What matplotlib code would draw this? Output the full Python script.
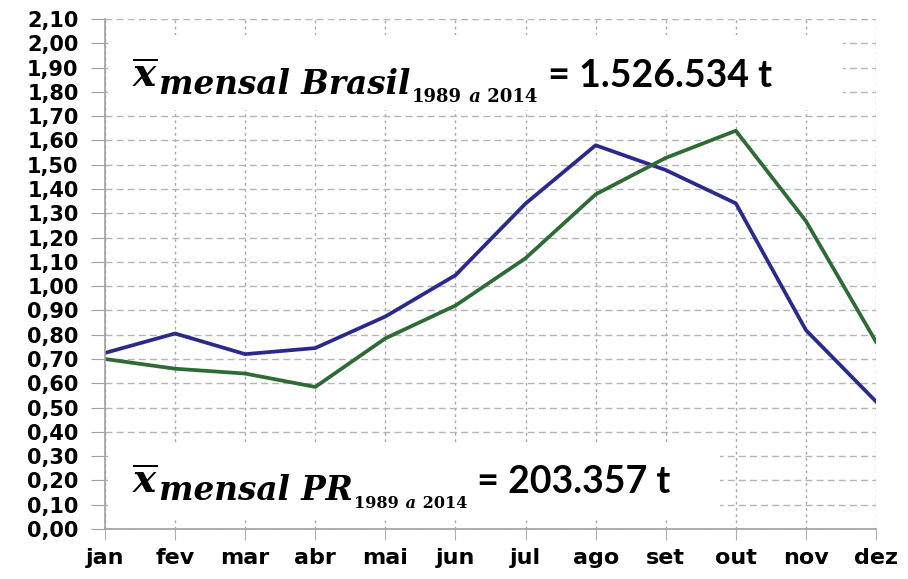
import numpy as np
import matplotlib.pyplot as plt
from matplotlib.patches import Rectangle

months = ["jan", "fev", "mar", "abr", "mai", "jun", "jul", "ago", "set", "out", "nov", "dez"]
serie_azul = [0.725, 0.805, 0.72, 0.745, 0.875, 1.045, 1.34, 1.58, 1.478, 1.341, 0.819, 0.525]
serie_verde = [0.70, 0.66, 0.64, 0.585, 0.785, 0.92, 1.115, 1.378, 1.528, 1.64, 1.268, 0.771]
y_ticks = np.round(np.arange(0, 2.11, 0.1), 2)

media_brasil = "1.526.534 t"
media_pr = "203.357 t"

plt.rcParams["mathtext.fontset"] = "dejavuserif"

W, H = 908, 579
fig = plt.figure(figsize=(W / 100, H / 100), dpi=100)
ax = fig.add_axes([105 / W, 1 - 529 / H, 771 / W, 510 / H])

x = np.arange(len(months))
ax.plot(x, serie_azul, color="#2b2a8c", lw=2.7, zorder=4)
ax.plot(x, serie_verde, color="#2e6b35", lw=2.7, zorder=4)

ax.set_xlim(0, len(months) - 1)
ax.set_ylim(0, 2.10)
ax.set_yticks(y_ticks)
ax.set_yticklabels([f"{v:.2f}".replace(".", ",") for v in y_ticks],
                   fontsize=15, fontweight="bold", family="DejaVu Sans")
ax.set_xticks(x)
ax.set_xticklabels(months, fontsize=16, fontweight="bold", family="DejaVu Sans")

ax.yaxis.grid(True, color="#b5b5b5", linestyle=(0, (5, 3)), lw=1)
ax.xaxis.grid(True, color="#a8a8a8", linestyle=(0, (2, 2.5)), lw=1)
ax.set_axisbelow(True)

for s in ["top", "right"]:
    ax.spines[s].set_visible(False)
for s in ["left", "bottom"]:
    ax.spines[s].set_color("#a0a0a0")
    ax.spines[s].set_linewidth(1.2)
    ax.spines[s].set_zorder(5)
ax.tick_params(axis="y", length=10, color="#a0a0a0", pad=9)
ax.tick_params(axis="x", length=8, color="#b0b0b0", pad=6)

# white boxes behind the mean labels (cover the grid)
ax.add_patch(Rectangle((0.04, 1.725), 10.49, 0.31, facecolor="white",
                       edgecolor="none", zorder=2))
ax.add_patch(Rectangle((0.04, 0.045), 8.73, 0.313, facecolor="white",
                       edgecolor="none", zorder=2))

renderer = fig.canvas.get_renderer()


def chain(parts, x0):
    # place text pieces one after another on the same line
    xpos = x0
    for s, ypix, kw in parts:
        t = fig.text(xpos / W, 1 - ypix / H, s, va="baseline", ha="left", **kw)
        xpos = t.get_window_extent(renderer).x1 + 1


xbar = r"$\overline{\mathbfit{x}}$"
serif_bi = dict(family="DejaVu Serif", style="italic", fontweight="bold")
serif_b = dict(family="DejaVu Serif", fontweight="bold")
lato_b = dict(family="Lato", fontweight="bold", fontsize=27)

chain([
    (xbar, 87, dict(fontsize=28)),
    ("mensal Brasil", 94, dict(fontsize=23.5, **serif_bi)),
    ("1989", 102, dict(fontsize=13, **serif_b)),
    (" a", 102, dict(fontsize=13, **serif_bi)),
    (" 2014", 102, dict(fontsize=13, **serif_b)),
    (" = " + media_brasil, 87, lato_b),
], 132)

chain([
    (xbar, 493, dict(fontsize=28)),
    ("mensal PR", 500, dict(fontsize=23.5, **serif_bi)),
    ("1989", 508, dict(fontsize=11.5, **serif_b)),
    (" a", 508, dict(fontsize=11.5, **serif_bi)),
    (" 2014", 508, dict(fontsize=11.5, **serif_b)),
    (" = " + media_pr, 493, lato_b),
], 132)

fig.savefig("out.png", dpi=100)
